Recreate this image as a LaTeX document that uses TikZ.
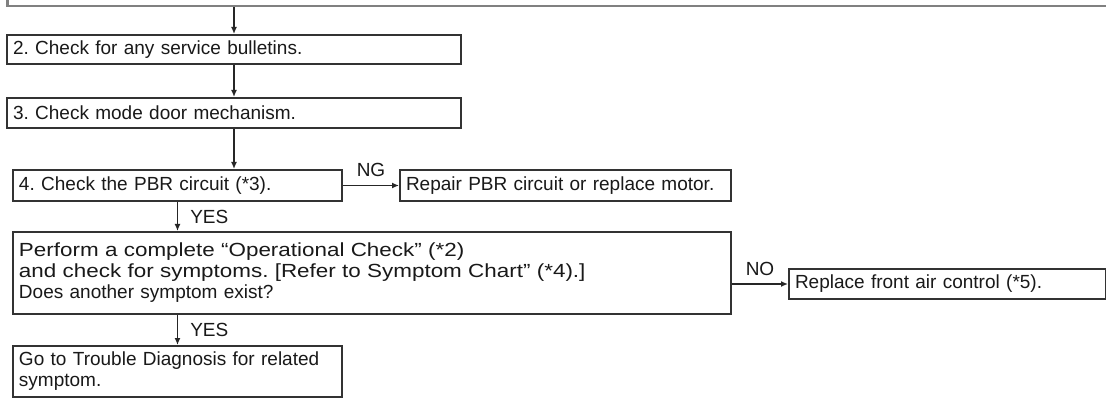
\documentclass[tikz,border=0pt]{standalone}
\usepackage{fontspec}
\setmainfont{Liberation Sans}
\newfontfamily\widefont[FakeStretch=1.18]{Liberation Sans}
\usetikzlibrary{arrows.meta,positioning}

\begin{document}
\frenchspacing
\begin{tikzpicture}[
  x=1pt,
  y=-1pt,
  box/.style={draw=black!80, line width=2pt, anchor=north west, inner xsep=6pt, inner ysep=0pt, align=left, font=\fontsize{19}{21}\selectfont, text=black!90},
  link/.style={draw=black!85, line width=1.5pt, -{Latex[length=7pt,width=6pt]}},
  tag/.style={font=\fontsize{19}{21}\selectfont, text=black!90, inner sep=1pt}
]
\useasboundingbox (0,0) rectangle (1106,398);
\clip (0,0) rectangle (1106,398);
\fill[white] (0,0) rectangle (1106,398);
\node[box, draw=black!50, line width=2.5pt, minimum width=1140, minimum height=50] (s1) at (6,-45) {};
\node[box, text width=442, minimum height=29] (s2) at (6,34) {2. Check for any service bulletins.};
\node[box, text width=442, minimum height=30] (s3) at (6,97) {3. Check mode door mechanism.};
\node[box, text width=317, minimum height=31] (s4) at (12,169) {4. Check the PBR circuit (*3).};
\node[box, text width=319, minimum height=31] (fix4) at (399,169) {Repair PBR circuit or replace motor.};
\node[box, text width=706, minimum height=82] (s5) at (12,231) {{\widefont Perform a complete “Operational Check” (*2)}\\{\widefont and check for symptoms. [Refer to Symptom Chart” (*4).]}\\Does another symptom exist?};
\node[box, text width=305, minimum height=30] (fix5) at (788,268) {Replace front air control (*5).};
\node[box, text width=317, minimum height=51] (s6) at (12,345) {Go to Trouble Diagnosis for related\\symptom.};
\draw[link] (s1.south -| s2.north) -- (s2.north);
\draw[link] (s2) -- (s3);
\draw[link] (s3.south) -- (s3.south |- s4.north);
\draw[link] (s4) -- node[tag, above=7pt] (ng) {NG} (fix4);
\draw[link] (s4.south) -- node[tag, right=11pt] (yes1) {YES} (s4.south |- s5.north);
\draw[link] (s5.east |- fix5.west) -- node[tag, above=7pt] (no) {NO} (fix5.west);
\draw[link] (s5.south -| s6.north) -- node[tag, right=11pt] (yes2) {YES} (s6.north);
\end{tikzpicture}
\end{document}
